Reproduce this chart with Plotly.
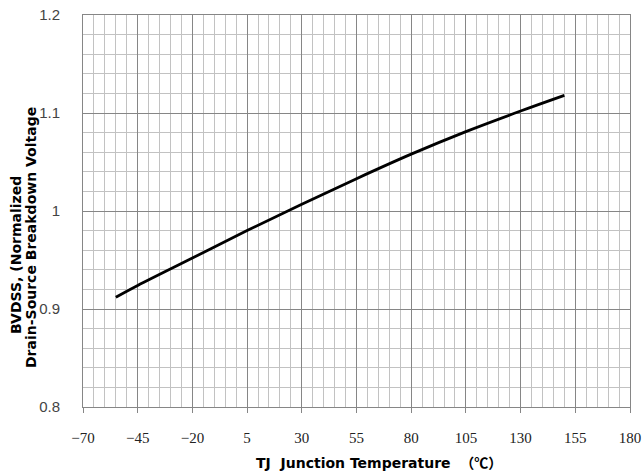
import plotly.graph_objects as go

temps = [-55, -45, -20, 5, 30, 55, 80, 105, 130, 150]
bvdss = [0.912, 0.924, 0.952, 0.980, 1.007, 1.033, 1.058, 1.081, 1.102, 1.118]

x_ticks = [-70, -45, -20, 5, 30, 55, 80, 105, 130, 155, 180]
x_labels = ["\u221270", "\u221245", "\u221220", "5", "30", "55", "80", "105", "130", "155", "180"]
y_ticks = [0.8, 0.9, 1.0, 1.1, 1.2]
y_labels = ["0.8", "0.9", "1", "1.1", "1.2"]

fig = go.Figure()
fig.add_trace(go.Scatter(x=temps, y=bvdss, mode="lines",
                         line=dict(color="black", width=2.8, shape="spline", smoothing=1.0),
                         showlegend=False, hoverinfo="skip"))

major = "#868686"
minor = "#c2c2c2"
L, R, T, B = 83, 630, 15, 407
pw, ph = R - L, B - T
fig.update_layout(
    width=643, height=471,
    margin=dict(l=L, r=643 - R, t=T, b=471 - B, autoexpand=False),
    paper_bgcolor="white", plot_bgcolor="white",
    xaxis=dict(range=[-70, 180], tickmode="array", tickvals=x_ticks, ticktext=x_labels,
               automargin=False,
               showgrid=True, gridcolor=major, gridwidth=1,
               minor=dict(dtick=5, tick0=-70, showgrid=True, gridcolor=minor, gridwidth=1),
               showline=True, linecolor=major, linewidth=1, mirror=True,
               ticks="outside", ticklen=5, tickcolor=major, ticklabelstandoff=12,
               tickfont=dict(family="Liberation Serif", size=15, color="#222"),
               zeroline=False),
    yaxis=dict(range=[0.8, 1.2], tickmode="array", tickvals=y_ticks, ticktext=y_labels,
               automargin=False,
               showgrid=True, gridcolor=major, gridwidth=1,
               minor=dict(dtick=0.02, tick0=0.8, showgrid=True, gridcolor=minor, gridwidth=1),
               showline=True, linecolor=major, linewidth=1, mirror=True,
               ticks="", ticklabelstandoff=19,
               tickfont=dict(family="Liberation Sans", size=15, color="#444"),
               zeroline=False),
    annotations=[
        dict(text="<b>TJ  Junction Temperature  <span style=\"font-family:'Noto Sans CJK JP'\">（℃）</span></b>",
             xref="paper", yref="paper",
             x=(379 - L) / pw, y=(B - 462) / ph, xanchor="center", yanchor="middle", showarrow=False,
             font=dict(family="DejaVu Sans", size=14, color="black")),
        dict(text="<b>BVDSS, (Normalized</b>", xref="paper", yref="paper",
             x=(16 - L) / pw, y=(B - 255) / ph, xanchor="center", yanchor="middle", showarrow=False,
             textangle=-90,
             font=dict(family="DejaVu Sans", size=14, color="black")),
        dict(text="<b>Drain-Source Breakdown Voltage</b>", xref="paper", yref="paper",
             x=(31 - L) / pw, y=(B - 238) / ph, xanchor="center", yanchor="middle", showarrow=False,
             textangle=-90,
             font=dict(family="DejaVu Sans", size=14, color="black")),
    ],
)

fig.write_html("out.html")
